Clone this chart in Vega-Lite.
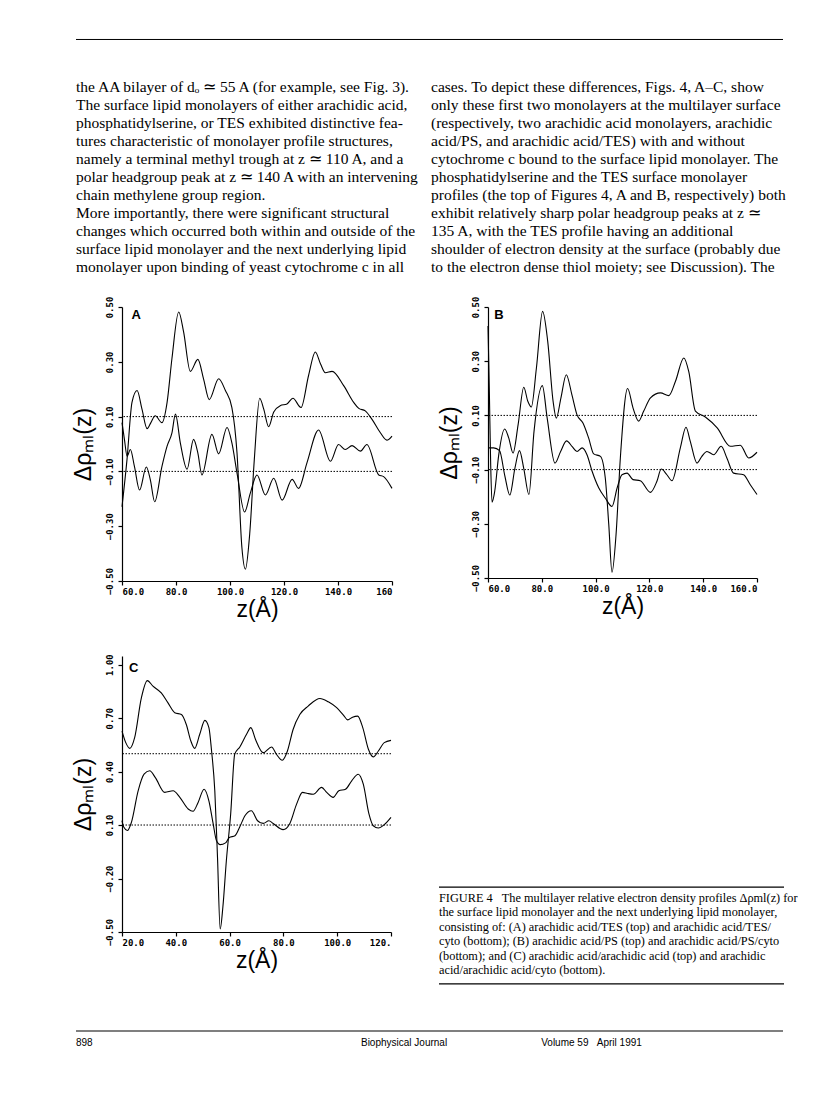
{
 "$schema": "https://vega.github.io/schema/vega-lite/v6.json",
 "padding": {"left": 72, "top": 38, "right": 5, "bottom": 5},
 "background": "white",
 "bounds": "flush",
 "columns": 2,
 "spacing": {"row": 75, "column": 96},
 "config": {
  "view": {"stroke": null},
  "axis": {"grid": false, "domainColor": "black", "tickColor": "black", "labelColor": "black", "titleColor": "black", "labelFont": "DejaVu Sans Mono", "labelFontSize": 9, "labelFontWeight": "bold", "titleFont": "Liberation Sans", "titleFontSize": 23, "titleFontWeight": "normal", "tickSize": 4, "domainWidth": 1.2, "tickWidth": 1.2},
  "axisY": {"labelAngle": 270, "labelAlign": "center", "labelBaseline": "bottom", "labelPadding": 4, "titlePadding": 10},
  "axisX": {"labelAngle": 0, "labelPadding": 2, "titlePadding": 2}
 },
 "datasets": {
  "bodyL": [
   {"line": 0, "text": "the AA bilayer of dₒ ≃ 55 A (for example, see Fig. 3)."},
   {"line": 1, "text": "The surface lipid monolayers of either arachidic acid,"},
   {"line": 2, "text": "phosphatidylserine, or TES exhibited distinctive fea-"},
   {"line": 3, "text": "tures characteristic of monolayer profile structures,"},
   {"line": 4, "text": "namely a terminal methyl trough at z ≃ 110 A, and a"},
   {"line": 5, "text": "polar headgroup peak at z ≃ 140 A with an intervening"},
   {"line": 6, "text": "chain methylene group region."},
   {"line": 7, "text": "\u2003More importantly, there were significant structural"},
   {"line": 8, "text": "changes which occurred both within and outside of the"},
   {"line": 9, "text": "surface lipid monolayer and the next underlying lipid"},
   {"line": 10, "text": "monolayer upon binding of yeast cytochrome c in all"}
  ],
  "bodyR": [
   {"line": 0, "text": "cases. To depict these differences, Figs. 4, A–C, show"},
   {"line": 1, "text": "only these first two monolayers at the multilayer surface"},
   {"line": 2, "text": "(respectively, two arachidic acid monolayers, arachidic"},
   {"line": 3, "text": "acid/PS, and arachidic acid/TES) with and without"},
   {"line": 4, "text": "cytochrome c bound to the surface lipid monolayer. The"},
   {"line": 5, "text": "phosphatidylserine and the TES surface monolayer"},
   {"line": 6, "text": "profiles (the top of Figures 4, A and B, respectively) both"},
   {"line": 7, "text": "exhibit relatively sharp polar headgroup peaks at z ≃"},
   {"line": 8, "text": "135 A, with the TES profile having an additional"},
   {"line": 9, "text": "shoulder of electron density at the surface (probably due"},
   {"line": 10, "text": "to the electron dense thiol moiety; see Discussion). The"}
  ],
  "caption": [
   {"line": 0, "text": "FIGURE 4\u00a0\u00a0\u00a0The multilayer relative electron density profiles Δρml(z) for"},
   {"line": 1, "text": "the surface lipid monolayer and the next underlying lipid monolayer,"},
   {"line": 2, "text": "consisting of: (A) arachidic acid/TES (top) and arachidic acid/TES/"},
   {"line": 3, "text": "cyto (bottom); (B) arachidic acid/PS (top) and arachidic acid/PS/cyto"},
   {"line": 4, "text": "(bottom); and (C) arachidic acid/arachidic acid (top) and arachidic"},
   {"line": 5, "text": "acid/arachidic acid/cyto (bottom)."}
  ],
  "A": [
   {"c":"top","z":60,"r":-0.229},{"c":"top","z":61.85,"r":-0.057},{"c":"top","z":63.7,"r":0.152},{"c":"top","z":65.6,"r":0.195},{"c":"top","z":67.4,"r":0.127},{"c":"top","z":69.3,"r":0.056},{"c":"top","z":70.7,"r":0.078},{"c":"top","z":72.3,"r":0.103},{"c":"top","z":74.8,"r":0.078},{"c":"top","z":76.7,"r":0.152},{"c":"top","z":78.5,"r":0.312},{"c":"top","z":81.0,"r":0.482},{"c":"top","z":82.8,"r":0.41},{"c":"top","z":85.3,"r":0.265},{"c":"top","z":88.1,"r":0.309},{"c":"top","z":90.2,"r":0.238},{"c":"top","z":92.3,"r":0.162},{"c":"top","z":95.8,"r":0.238},{"c":"top","z":98.3,"r":0.195},{"c":"top","z":100.7,"r":0.133},{"c":"top","z":102.6,"r":-0.033},{"c":"top","z":104.4,"r":-0.377},{"c":"top","z":105.7,"r":-0.457},{"c":"top","z":107.3,"r":-0.328},{"c":"top","z":109.0,"r":-0.057},{"c":"top","z":111.0,"r":0.167},{"c":"top","z":112.5,"r":0.127},{"c":"top","z":114.3,"r":0.063},{"c":"top","z":116.2,"r":0.117},{"c":"top","z":118.6,"r":0.14},{"c":"top","z":121.1,"r":0.146},{"c":"top","z":123.3,"r":0.167},{"c":"top","z":126.3,"r":0.133},{"c":"top","z":129.1,"r":0.25},{"c":"top","z":131.6,"r":0.336},{"c":"top","z":133.5,"r":0.293},{"c":"top","z":135.3,"r":0.26},{"c":"top","z":137.8,"r":0.265},{"c":"top","z":142.1,"r":0.213},{"c":"top","z":145.8,"r":0.152},{"c":"top","z":147.7,"r":0.13},{"c":"top","z":150.1,"r":0.121},{"c":"top","z":152.6,"r":0.09},{"c":"top","z":155.7,"r":0.041},{"c":"top","z":158.1,"r":0.014},{"c":"top","z":160,"r":0.029},
   {"c":"bot","z":60,"r":0.078},{"c":"bot","z":60.9,"r":0.017},{"c":"bot","z":61.9,"r":-0.045},{"c":"bot","z":63.1,"r":-0.02},{"c":"bot","z":64.6,"r":-0.082},{"c":"bot","z":66.5,"r":-0.168},{"c":"bot","z":69.0,"r":-0.084},{"c":"bot","z":70.5,"r":-0.131},{"c":"bot","z":72.1,"r":-0.211},{"c":"bot","z":74.8,"r":-0.082},{"c":"bot","z":76.7,"r":-0.008},{"c":"bot","z":78.5,"r":0.041},{"c":"bot","z":79.8,"r":0.109},{"c":"bot","z":81.6,"r":0.004},{"c":"bot","z":84.1,"r":-0.092},{"c":"bot","z":86.5,"r":0.017},{"c":"bot","z":88.1,"r":-0.033},{"c":"bot","z":89.6,"r":-0.113},{"c":"bot","z":93.3,"r":0.035},{"c":"bot","z":95.8,"r":-0.036},{"c":"bot","z":98.9,"r":0.06},{"c":"bot","z":100.7,"r":0.004},{"c":"bot","z":102.6,"r":-0.106},{"c":"bot","z":105.4,"r":-0.248},{"c":"bot","z":107.5,"r":-0.18},{"c":"bot","z":110.0,"r":-0.113},{"c":"bot","z":113.1,"r":-0.186},{"c":"bot","z":116.2,"r":-0.125},{"c":"bot","z":119.3,"r":-0.205},{"c":"bot","z":123.0,"r":-0.129},{"c":"bot","z":125.4,"r":-0.162},{"c":"bot","z":128.5,"r":-0.069},{"c":"bot","z":132.8,"r":0.051},{"c":"bot","z":137.2,"r":-0.063},{"c":"bot","z":140.2,"r":-0.002},{"c":"bot","z":142.7,"r":-0.02},{"c":"bot","z":145.2,"r":-0.006},{"c":"bot","z":148.3,"r":-0.026},{"c":"bot","z":150.7,"r":-0.002},{"c":"bot","z":155.1,"r":-0.113},{"c":"bot","z":156.9,"r":-0.119},{"c":"bot","z":160,"r":-0.162}
  ],
  "B": [
   {"c":"top","z":60,"r":0.43},{"c":"top","z":60.5,"r":0.189},{"c":"top","z":61.0,"r":-0.082},{"c":"top","z":61.5,"r":-0.22},{"c":"top","z":62.5,"r":-0.18},{"c":"top","z":64.0,"r":-0.045},{"c":"top","z":66.2,"r":0.05},{"c":"top","z":67.7,"r":0.017},{"c":"top","z":69.3,"r":-0.039},{"c":"top","z":71.2,"r":0.066},{"c":"top","z":73.3,"r":0.204},{"c":"top","z":74.8,"r":0.152},{"c":"top","z":76.1,"r":0.131},{"c":"top","z":78.0,"r":0.275},{"c":"top","z":80.3,"r":0.484},{"c":"top","z":82.2,"r":0.373},{"c":"top","z":84.2,"r":0.152},{"c":"top","z":85.4,"r":0.09},{"c":"top","z":87.1,"r":0.164},{"c":"top","z":89.1,"r":0.25},{"c":"top","z":91.2,"r":0.176},{"c":"top","z":93.1,"r":0.102},{"c":"top","z":95.3,"r":0.072},{"c":"top","z":97.4,"r":0.017},{"c":"top","z":99.3,"r":-0.042},{"c":"top","z":101.8,"r":-0.051},{"c":"top","z":103.6,"r":-0.131},{"c":"top","z":104.9,"r":-0.303},{"c":"top","z":106.1,"r":-0.479},{"c":"top","z":107.6,"r":-0.34},{"c":"top","z":109.2,"r":-0.057},{"c":"top","z":111.9,"r":0.199},{"c":"top","z":113.9,"r":0.128},{"c":"top","z":116.0,"r":0.079},{"c":"top","z":117.9,"r":0.116},{"c":"top","z":120.4,"r":0.165},{"c":"top","z":124.1,"r":0.183},{"c":"top","z":127.2,"r":0.173},{"c":"top","z":129.7,"r":0.226},{"c":"top","z":132.8,"r":0.312},{"c":"top","z":134.6,"r":0.263},{"c":"top","z":137.1,"r":0.116},{"c":"top","z":140.8,"r":0.094},{"c":"top","z":145.2,"r":0.054},{"c":"top","z":150.1,"r":-0.014},{"c":"top","z":153.8,"r":-0.01},{"c":"top","z":156.9,"r":-0.057},{"c":"top","z":160,"r":-0.036},
   {"c":"bot","z":60,"r":-0.02},{"c":"bot","z":62.1,"r":-0.02},{"c":"bot","z":64.3,"r":-0.03},{"c":"bot","z":66.2,"r":-0.12},{"c":"bot","z":68.1,"r":-0.194},{"c":"bot","z":70.0,"r":-0.095},{"c":"bot","z":71.7,"r":-0.03},{"c":"bot","z":73.3,"r":-0.096},{"c":"bot","z":75.2,"r":-0.192},{"c":"bot","z":77.1,"r":0.04},{"c":"bot","z":80.2,"r":0.21},{"c":"bot","z":82.0,"r":0.09},{"c":"bot","z":84.9,"r":-0.076},{"c":"bot","z":87.0,"r":-0.033},{"c":"bot","z":89.2,"r":0.006},{"c":"bot","z":91.3,"r":-0.015},{"c":"bot","z":93.1,"r":-0.033},{"c":"bot","z":95.0,"r":-0.02},{"c":"bot","z":96.8,"r":-0.045},{"c":"bot","z":98.7,"r":-0.106},{"c":"bot","z":101.2,"r":-0.168},{"c":"bot","z":103.6,"r":-0.205},{"c":"bot","z":106.1,"r":-0.236},{"c":"bot","z":108.0,"r":-0.168},{"c":"bot","z":109.8,"r":-0.119},{"c":"bot","z":111.7,"r":-0.113},{"c":"bot","z":113.9,"r":-0.137},{"c":"bot","z":116.6,"r":-0.141},{"c":"bot","z":120.4,"r":-0.184},{"c":"bot","z":122.8,"r":-0.143},{"c":"bot","z":124.4,"r":-0.098},{"c":"bot","z":126.5,"r":-0.119},{"c":"bot","z":128.4,"r":-0.141},{"c":"bot","z":131.5,"r":-0.02},{"c":"bot","z":133.6,"r":0.056},{"c":"bot","z":135.2,"r":0.004},{"c":"bot","z":137.7,"r":-0.076},{"c":"bot","z":139.5,"r":-0.051},{"c":"bot","z":141.4,"r":-0.033},{"c":"bot","z":143.9,"r":-0.045},{"c":"bot","z":146.7,"r":-0.014},{"c":"bot","z":148.8,"r":-0.057},{"c":"bot","z":151.3,"r":-0.113},{"c":"bot","z":155.0,"r":-0.119},{"c":"bot","z":157.5,"r":-0.156},{"c":"bot","z":160,"r":-0.192}
  ],
  "C": [
   {"c":"top","z":20,"r":0.627},{"c":"top","z":21.4,"r":0.562},{"c":"top","z":22.9,"r":0.53},{"c":"top","z":24.7,"r":0.59},{"c":"top","z":27.2,"r":0.813},{"c":"top","z":29.4,"r":0.91},{"c":"top","z":31.5,"r":0.879},{"c":"top","z":34.6,"r":0.841},{"c":"top","z":37.1,"r":0.785},{"c":"top","z":39.6,"r":0.73},{"c":"top","z":42.1,"r":0.72},{"c":"top","z":43.9,"r":0.664},{"c":"top","z":45.6,"r":0.571},{"c":"top","z":47.0,"r":0.53},{"c":"top","z":48.9,"r":0.609},{"c":"top","z":50.8,"r":0.687},{"c":"top","z":52.3,"r":0.646},{"c":"top","z":53.3,"r":0.515},{"c":"top","z":54.5,"r":0.292},{"c":"top","z":55.5,"r":-0.08},{"c":"top","z":56.5,"r":-0.483},{"c":"top","z":57.5,"r":-0.36},{"c":"top","z":58.8,"r":-0.099},{"c":"top","z":60.4,"r":0.162},{"c":"top","z":61.9,"r":0.497},{"c":"top","z":63.8,"r":0.538},{"c":"top","z":66.3,"r":0.609},{"c":"top","z":67.9,"r":0.646},{"c":"top","z":69.6,"r":0.581},{"c":"top","z":72.5,"r":0.506},{"c":"top","z":75.6,"r":0.538},{"c":"top","z":77.4,"r":0.497},{"c":"top","z":79.6,"r":0.463},{"c":"top","z":81.5,"r":0.515},{"c":"top","z":83.6,"r":0.636},{"c":"top","z":86.1,"r":0.72},{"c":"top","z":89.2,"r":0.767},{"c":"top","z":93.6,"r":0.81},{"c":"top","z":96.7,"r":0.791},{"c":"top","z":99.8,"r":0.758},{"c":"top","z":102.3,"r":0.717},{"c":"top","z":103.9,"r":0.69},{"c":"top","z":105.7,"r":0.705},{"c":"top","z":107.6,"r":0.711},{"c":"top","z":109.5,"r":0.646},{"c":"top","z":111.6,"r":0.525},{"c":"top","z":113.4,"r":0.482},{"c":"top","z":115.3,"r":0.515},{"c":"top","z":117.5,"r":0.562},{"c":"top","z":120,"r":0.575},
   {"c":"bot","z":20,"r":0.124},{"c":"bot","z":20.7,"r":0.087},{"c":"bot","z":22.0,"r":0.069},{"c":"bot","z":23.5,"r":0.115},{"c":"bot","z":26.0,"r":0.292},{"c":"bot","z":28.2,"r":0.385},{"c":"bot","z":30.3,"r":0.404},{"c":"bot","z":32.4,"r":0.366},{"c":"bot","z":35.9,"r":0.283},{"c":"bot","z":39.0,"r":0.292},{"c":"bot","z":41.5,"r":0.255},{"c":"bot","z":44.6,"r":0.19},{"c":"bot","z":46.4,"r":0.177},{"c":"bot","z":48.3,"r":0.227},{"c":"bot","z":50.5,"r":0.301},{"c":"bot","z":52.3,"r":0.236},{"c":"bot","z":53.9,"r":0.106},{"c":"bot","z":55.1,"r":0.013},{"c":"bot","z":56.5,"r":-0.01},{"c":"bot","z":58.5,"r":0.0},{"c":"bot","z":59.9,"r":0.03},{"c":"bot","z":62.0,"r":0.04},{"c":"bot","z":63.8,"r":0.09},{"c":"bot","z":65.7,"r":0.152},{"c":"bot","z":68.1,"r":0.18},{"c":"bot","z":70.4,"r":0.124},{"c":"bot","z":72.5,"r":0.109},{"c":"bot","z":74.6,"r":0.124},{"c":"bot","z":76.2,"r":0.109},{"c":"bot","z":79.9,"r":0.074},{"c":"bot","z":82.4,"r":0.109},{"c":"bot","z":84.9,"r":0.217},{"c":"bot","z":87.1,"r":0.283},{"c":"bot","z":89.0,"r":0.277},{"c":"bot","z":91.1,"r":0.273},{"c":"bot","z":94.2,"r":0.311},{"c":"bot","z":96.1,"r":0.283},{"c":"bot","z":98.5,"r":0.255},{"c":"bot","z":100.6,"r":0.292},{"c":"bot","z":103.1,"r":0.301},{"c":"bot","z":105.4,"r":0.348},{"c":"bot","z":107.8,"r":0.385},{"c":"bot","z":109.7,"r":0.329},{"c":"bot","z":111.8,"r":0.162},{"c":"bot","z":113.4,"r":0.096},{"c":"bot","z":115.3,"r":0.083},{"c":"bot","z":117.5,"r":0.102},{"c":"bot","z":120,"r":0.143}
  ]
 },
 "concat": [
  {
   "width": 270, "height": 193,
   "layer": [
    {"data": {"name": "bodyL"},
     "mark": {"type": "text", "font": "Liberation Serif", "fontSize": 15.5, "align": "left", "baseline": "middle", "color": "black"},
     "encoding": {
      "x": {"datum": 0, "type": "quantitative", "scale": {"domain": [0, 1], "range": [-46, 661], "nice": false, "zero": false}, "axis": null},
      "y": {"field": "line", "type": "quantitative", "scale": {"domain": [0, 10], "range": [48, 228], "nice": false, "zero": false}, "axis": null},
      "text": {"field": "text"}}},
    {"data": {"values": [{}]},
     "mark": {"type": "rule", "color": "black", "strokeWidth": 1},
     "encoding": {
      "x": {"datum": 0, "type": "quantitative"},
      "x2": {"datum": 1},
      "y": {"datum": -2.64, "type": "quantitative"}}}
   ]
  },
  {
   "width": 269, "height": 193,
   "layer": [
    {"data": {"name": "bodyR"},
     "mark": {"type": "text", "font": "Liberation Serif", "fontSize": 15.5, "align": "left", "baseline": "middle", "color": "black"},
     "encoding": {
      "x": {"datum": 0, "type": "quantitative", "scale": {"domain": [0, 1], "range": [-57, 300], "nice": false, "zero": false}, "axis": null},
      "y": {"field": "line", "type": "quantitative", "scale": {"domain": [0, 10], "range": [48, 228], "nice": false, "zero": false}, "axis": null},
      "text": {"field": "text"}}}
   ]
  },
  {
   "width": 270, "height": 274,
   "layer": [
    {"data": {"name": "A"},
     "mark": {"type": "line", "color": "black", "strokeWidth": 1.1, "interpolate": "monotone"},
     "encoding": {
      "x": {"field": "z", "type": "quantitative", "scale": {"domain": [60, 160], "nice": false}, "axis": {"values": [60, 80, 100, 120, 140, 160], "labelExpr": "datum.value == 160 ? '160' : format(datum.value, '.1f')", "title": "z(Å)"}},
      "y": {"field": "r", "type": "quantitative", "scale": {"domain": [-0.5, 0.5], "nice": false}, "axis": {"values": [-0.5, -0.3, -0.1, 0.1, 0.3, 0.5], "format": ".2f", "title": "Δρₘₗ(z)"}},
      "detail": {"field": "c"}}},
    {"data": {"values": [{}]}, "mark": {"type": "rule", "color": "black", "strokeWidth": 1, "strokeDash": [1.5, 1.5]}, "encoding": {"y": {"datum": 0.1}}},
    {"data": {"values": [{}]}, "mark": {"type": "rule", "color": "black", "strokeWidth": 1, "strokeDash": [1.5, 1.5]}, "encoding": {"y": {"datum": -0.1}}},
    {"data": {"values": [{"t": "A"}]}, "mark": {"type": "text", "font": "Liberation Sans", "fontWeight": "bold", "fontSize": 13, "align": "left", "baseline": "middle", "color": "black"},
     "encoding": {"x": {"datum": 63.5}, "y": {"datum": 0.47}, "text": {"field": "t"}}}
   ]
  },
  {
   "width": 269, "height": 271,
   "layer": [
    {"data": {"name": "B"},
     "mark": {"type": "line", "color": "black", "strokeWidth": 1.1, "interpolate": "monotone"},
     "encoding": {
      "x": {"field": "z", "type": "quantitative", "scale": {"domain": [60, 160], "nice": false}, "axis": {"values": [60, 80, 100, 120, 140, 160], "format": ".1f", "title": "z(Å)"}},
      "y": {"field": "r", "type": "quantitative", "scale": {"domain": [-0.5, 0.5], "nice": false}, "axis": {"values": [-0.5, -0.3, -0.1, 0.1, 0.3, 0.5], "format": ".2f", "title": "Δρₘₗ(z)"}},
      "detail": {"field": "c"}}},
    {"data": {"values": [{}]}, "mark": {"type": "rule", "color": "black", "strokeWidth": 1, "strokeDash": [1.5, 1.5]}, "encoding": {"y": {"datum": 0.1}}},
    {"data": {"values": [{}]}, "mark": {"type": "rule", "color": "black", "strokeWidth": 1, "strokeDash": [1.5, 1.5]}, "encoding": {"y": {"datum": -0.1}}},
    {"data": {"values": [{"t": "B"}]}, "mark": {"type": "text", "font": "Liberation Sans", "fontWeight": "bold", "fontSize": 13, "align": "left", "baseline": "middle", "color": "black"},
     "encoding": {"x": {"datum": 62.3}, "y": {"datum": 0.47}, "text": {"field": "t"}}}
   ]
  },
  {
   "width": 269, "height": 276,
   "layer": [
    {"data": {"name": "C"},
     "mark": {"type": "line", "color": "black", "strokeWidth": 1.1, "interpolate": "monotone"},
     "encoding": {
      "x": {"field": "z", "type": "quantitative", "scale": {"domain": [20, 120], "nice": false}, "axis": {"values": [20, 40, 60, 80, 100, 120], "labelExpr": "datum.value == 120 ? '120.' : format(datum.value, '.1f')", "title": "z(Å)"}},
      "y": {"field": "r", "type": "quantitative", "scale": {"domain": [-0.5, 1.048], "nice": false, "zero": false}, "axis": {"values": [-0.5, -0.2, 0.1, 0.4, 0.7, 1.0], "format": ".2f", "title": "Δρₘₗ(z)"}},
      "detail": {"field": "c"}}},
    {"data": {"values": [{}]}, "mark": {"type": "rule", "color": "black", "strokeWidth": 1, "strokeDash": [1.5, 1.5]}, "encoding": {"y": {"datum": 0.5}}},
    {"data": {"values": [{}]}, "mark": {"type": "rule", "color": "black", "strokeWidth": 1, "strokeDash": [1.5, 1.5]}, "encoding": {"y": {"datum": 0.1}}},
    {"data": {"values": [{"t": "C"}]}, "mark": {"type": "text", "font": "Liberation Sans", "fontWeight": "bold", "fontSize": 13, "align": "left", "baseline": "middle", "color": "black"},
     "encoding": {"x": {"datum": 22.6}, "y": {"datum": 0.98}, "text": {"field": "t"}}}
   ]
  },
  {
   "width": 269, "height": 276,
   "layer": [
    {"data": {"name": "caption"},
     "mark": {"type": "text", "font": "Liberation Serif", "fontSize": 12.3, "align": "left", "baseline": "middle", "color": "black"},
     "encoding": {
      "x": {"datum": 0, "type": "quantitative", "scale": {"domain": [0, 1], "range": [-49, 296], "nice": false, "zero": false}, "axis": null},
      "y": {"field": "line", "type": "quantitative", "scale": {"domain": [0, 5], "range": [242, 314], "nice": false, "zero": false}, "axis": null},
      "text": {"field": "text"}}},
    {"data": {"values": [{}]}, "mark": {"type": "rule", "color": "black", "strokeWidth": 1.2},
     "encoding": {"x": {"datum": 0, "type": "quantitative"}, "x2": {"datum": 1}, "y": {"datum": -0.76, "type": "quantitative"}}},
    {"data": {"values": [{}]}, "mark": {"type": "rule", "color": "black", "strokeWidth": 1.2},
     "encoding": {"x": {"datum": 0, "type": "quantitative"}, "x2": {"datum": 1}, "y": {"datum": 5.97, "type": "quantitative"}}}
   ]
  },
  {
   "width": 270, "height": 40,
   "layer": [
    {"data": {"values": [{}]},
     "mark": {"type": "rule", "color": "black", "strokeWidth": 1.2},
     "encoding": {
      "x": {"datum": 0, "type": "quantitative", "scale": {"domain": [0, 1], "range": [-46, 661], "nice": false, "zero": false}, "axis": null},
      "x2": {"datum": 1},
      "y": {"datum": 0, "type": "quantitative", "scale": {"domain": [0, 1], "range": [24, 36], "nice": false, "zero": false}, "axis": null}}},
    {"data": {"values": [{"t": "898"}]}, "mark": {"type": "text", "font": "Liberation Sans", "fontSize": 10, "align": "left", "baseline": "middle", "color": "black"},
     "encoding": {"x": {"datum": 0}, "y": {"datum": 1}, "text": {"field": "t"}}},
    {"data": {"values": [{"t": "Biophysical Journal"}]}, "mark": {"type": "text", "font": "Liberation Sans", "fontSize": 10, "align": "center", "baseline": "middle", "color": "black"},
     "encoding": {"x": {"datum": 0.464}, "y": {"datum": 1}, "text": {"field": "t"}}},
    {"data": {"values": [{"t": "Volume 59\u00a0\u00a0\u00a0April 1991"}]}, "mark": {"type": "text", "font": "Liberation Sans", "fontSize": 10, "align": "left", "baseline": "middle", "color": "black"},
     "encoding": {"x": {"datum": 0.658}, "y": {"datum": 1}, "text": {"field": "t"}}}
   ]
  }
 ]
}
